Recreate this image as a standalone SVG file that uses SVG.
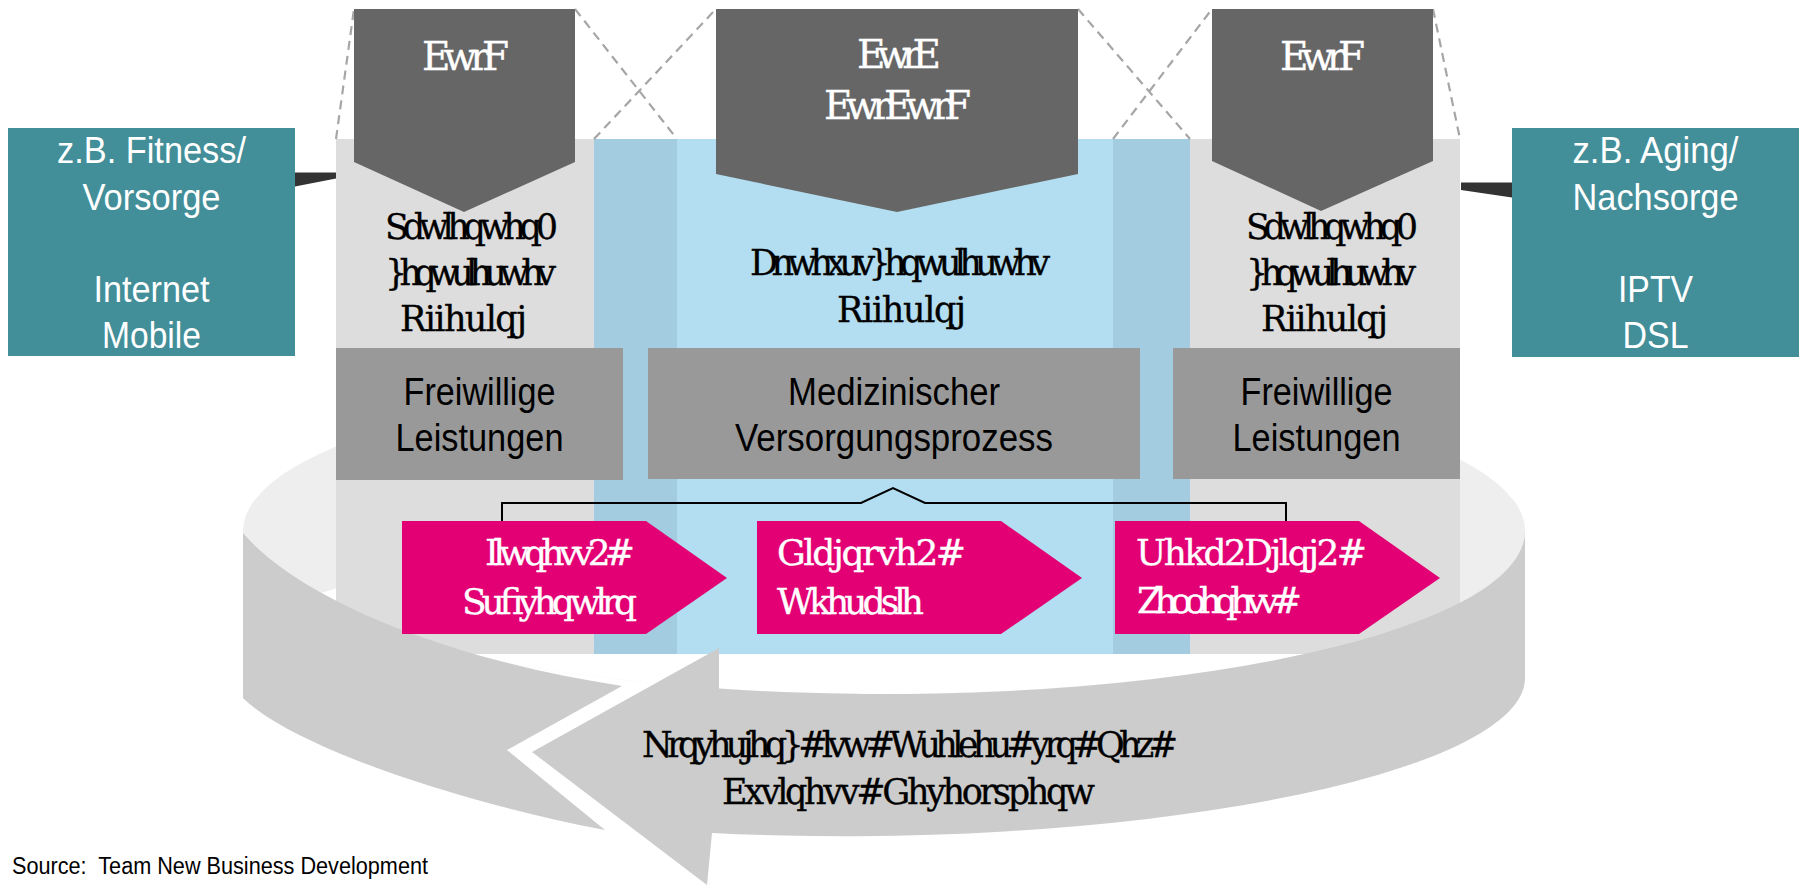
<svg xmlns="http://www.w3.org/2000/svg" width="1806" height="890" viewBox="0 0 1806 890">
<style>
.sans{font-family:"Liberation Sans",Arial,sans-serif;}
.ser{font-family:"DejaVu Serif","Liberation Serif",serif;stroke-width:0.35;}
.tw{fill:#fff;font-size:37px;text-anchor:middle;}
.tb{fill:#000;font-size:39px;text-anchor:middle;}
.dash{stroke:#A6A6A6;stroke-width:2.2;stroke-dasharray:9 6;fill:none;}
.pent{fill:#666666;}
.pink{fill:#E20074;}
.teal{fill:#428E99;}
.gbox{fill:#999999;}
.lg{fill:#DDDDDD;}
.db{fill:#A3CCE0;}
.lb{fill:#B3DDF0;}
.band{fill:#CCCCCC;}
.g1{fill:#fff;stroke:#fff;font-size:39px;}
.g2{fill:#000;stroke:#000;font-size:35px;}
.g3{fill:#fff;stroke:#fff;font-size:36px;}
</style>
<defs>
<clipPath id="e1clip"><ellipse cx="884" cy="531" rx="641" ry="163"/></clipPath>
</defs>
<rect width="1806" height="890" fill="#fff"/>

<g id="ring-back">
<ellipse cx="884" cy="531" rx="641" ry="163" fill="#EEEEEE"/>
<ellipse cx="884" cy="647" rx="641" ry="113" fill="#FFFFFF" clip-path="url(#e1clip)"/>
<rect x="1440" y="500" width="95" height="130" fill="#EEEEEE" clip-path="url(#e1clip)"/>
</g>

<g id="panel-left">
<rect class="lg" x="336" y="139" width="258" height="515"/>
</g>
<g id="panel-center">
<rect class="db" x="594" y="139" width="83" height="515"/>
<rect class="lb" x="677" y="139" width="436" height="515"/>
<rect class="db" x="1113" y="139" width="77" height="515"/>
</g>
<g id="panel-right">
<rect class="lg" x="1190" y="139" width="270" height="515"/>
</g>

<g id="box-left">
<rect class="gbox" x="336" y="348" width="287" height="132"/>
<text class="sans tb" x="479.5" y="405" textLength="152" lengthAdjust="spacingAndGlyphs">Freiwillige</text>
<text class="sans tb" x="479.5" y="451" textLength="168" lengthAdjust="spacingAndGlyphs">Leistungen</text>
</g>
<g id="box-center">
<rect class="gbox" x="648" y="348" width="492" height="131"/>
<text class="sans tb" x="894" y="405" textLength="212" lengthAdjust="spacingAndGlyphs">Medizinischer</text>
<text class="sans tb" x="894" y="451" textLength="318" lengthAdjust="spacingAndGlyphs">Versorgungsprozess</text>
</g>
<g id="box-right">
<rect class="gbox" x="1173" y="348" width="287" height="131"/>
<text class="sans tb" x="1316.5" y="405" textLength="152" lengthAdjust="spacingAndGlyphs">Freiwillige</text>
<text class="sans tb" x="1316.5" y="451" textLength="168" lengthAdjust="spacingAndGlyphs">Leistungen</text>
</g>

<g id="ring-front">
<path class="band" d="M 243,533 C 300,600 450,660 622,686 L 507,750 L 605,830 C 450,800 290,745 243,698 Z"/>
<path class="band" d="M 719,688.6 A 641 163 0 0 0 1525,531 L 1525,678 A 641 148 -0.9 0 1 712,833 L 707,885 L 532,752 L 719,648 Z"/>
<text class="ser g2" x="642" y="757" textLength="536">Nrqyhujhq}#lvw#Wuhlehu#yrq#Qhz#</text>
<text class="ser g2" x="722" y="804" textLength="373">Exvlqhvv#Ghyhorsphqw</text>
</g>

<g id="connectors">
<line class="dash" x1="336" y1="139" x2="354" y2="9"/>
<line class="dash" x1="575" y1="9" x2="677" y2="139"/>
<line class="dash" x1="594" y1="139" x2="716" y2="9"/>
<line class="dash" x1="1078" y1="9" x2="1190" y2="139"/>
<line class="dash" x1="1113" y1="139" x2="1212" y2="9"/>
<line class="dash" x1="1433" y1="9" x2="1460" y2="139"/>
<polygon points="295,172.5 336,172.5 336,178.5 295,186.5" fill="#333333"/>
<polygon points="1461,182.5 1512,182.5 1512,197.5 1461,190" fill="#333333"/>
<polyline points="502,521 502,503 861,503 893,488 925,503 1286,503 1286,521" fill="none" stroke="#000" stroke-width="2"/>
</g>

<g id="pent-left">
<polygon class="pent" points="354,9 575,9 575,162 464,212 354,162"/>
<text class="ser g1" x="422" y="70" textLength="87">EwrF</text>
</g>
<g id="pent-center">
<polygon class="pent" points="716,9 1078,9 1078,174 897,212 716,174"/>
<text class="ser g1" x="857" y="68" textLength="84">EwrE</text>
<text class="ser g1" x="824" y="119" textLength="147">EwrEwrF</text>
</g>
<g id="pent-right">
<polygon class="pent" points="1212,9 1433,9 1433,161 1321,211 1212,161"/>
<text class="ser g1" x="1280" y="70" textLength="85">EwrF</text>
</g>

<g id="panel-left-text">
<text class="ser g2" x="385" y="239" textLength="173">Sdwlhqwhq0</text>
<text class="ser g2" x="385" y="285" textLength="171">}hqwulhuwhv</text>
<text class="ser g2" x="400" y="331" textLength="127">Riihulqj</text>
</g>
<g id="panel-center-text">
<text class="ser g2" x="750" y="275" textLength="300">Dnwhxuv}hqwulhuwhv</text>
<text class="ser g2" x="837" y="322" textLength="129">Riihulqj</text>
</g>
<g id="panel-right-text">
<text class="ser g2" x="1246" y="239" textLength="172">Sdwlhqwhq0</text>
<text class="ser g2" x="1246" y="285" textLength="170">}hqwulhuwhv</text>
<text class="ser g2" x="1261" y="331" textLength="127">Riihulqj</text>
</g>

<g id="teal-left">
<rect class="teal" x="8" y="128" width="287" height="228"/>
<text class="sans tw" x="151.5" y="163" textLength="189" lengthAdjust="spacingAndGlyphs">z.B. Fitness/</text>
<text class="sans tw" x="151.5" y="210" textLength="138" lengthAdjust="spacingAndGlyphs">Vorsorge</text>
<text class="sans tw" x="151.5" y="302" textLength="116" lengthAdjust="spacingAndGlyphs">Internet</text>
<text class="sans tw" x="151.5" y="348" textLength="99" lengthAdjust="spacingAndGlyphs">Mobile</text>
</g>
<g id="teal-right">
<rect class="teal" x="1512" y="128" width="287" height="229"/>
<text class="sans tw" x="1655.5" y="163" textLength="166" lengthAdjust="spacingAndGlyphs">z.B. Aging/</text>
<text class="sans tw" x="1655.5" y="210" textLength="166" lengthAdjust="spacingAndGlyphs">Nachsorge</text>
<text class="sans tw" x="1655.5" y="302" textLength="75" lengthAdjust="spacingAndGlyphs">IPTV</text>
<text class="sans tw" x="1655.5" y="348" textLength="66" lengthAdjust="spacingAndGlyphs">DSL</text>
</g>

<g id="arrow-fitness">
<polygon class="pink" points="402,521 646,521 727,578 646,634 402,634"/>
<text class="ser g3" x="485" y="565" textLength="150">Ilwqhvv2#</text>
<text class="ser g3" x="462" y="614" textLength="175">Sufiyhqwlrq</text>
</g>
<g id="arrow-diagnose">
<polygon class="pink" points="757,521 1001,521 1082,578 1001,634 757,634"/>
<text class="ser g3" x="777" y="565" textLength="189">Gldjqrvh2#</text>
<text class="ser g3" x="777" y="614" textLength="147">Wkhudslh</text>
</g>
<g id="arrow-reha">
<polygon class="pink" points="1115,521 1359,521 1440,578 1359,634 1115,634"/>
<text class="ser g3" x="1136" y="565" textLength="231">Uhkd2Djlqj2#</text>
<text class="ser g3" x="1137" y="613" textLength="165">Zhoohqhvv#</text>
</g>

<g id="source">
<text class="sans" x="12" y="874" font-size="23" fill="#000" textLength="416" lengthAdjust="spacingAndGlyphs" xml:space="preserve">Source:  Team New Business Development</text>
</g>
</svg>
